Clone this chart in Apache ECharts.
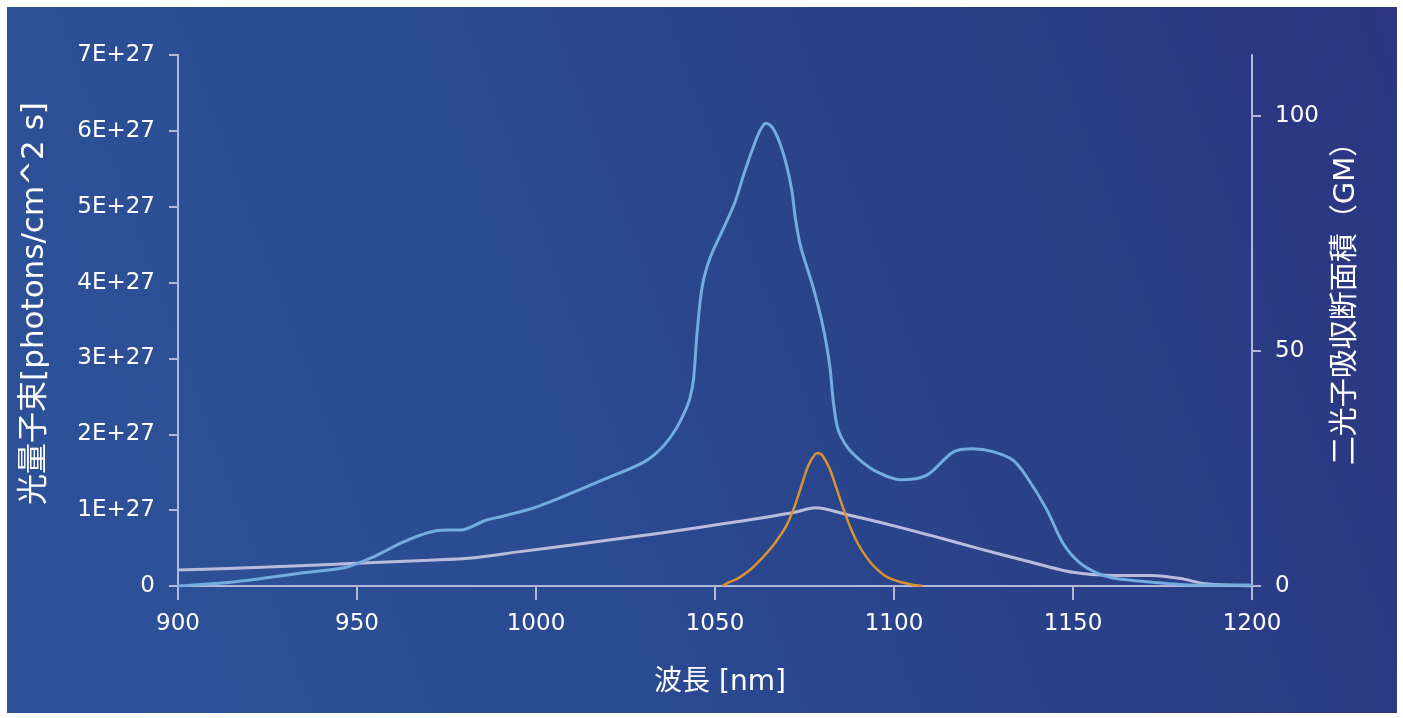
<!DOCTYPE html>
<html>
<head>
<meta charset="utf-8">
<script src="https://cdn.jsdelivr.net/npm/echarts@6/dist/echarts.min.js"></script>
<style>
    html, body { margin: 0; padding: 0; background: #ffffff; }
    #chart {
        position: absolute; left: 7px; top: 7px; width: 1390px; height: 706px;
        background: linear-gradient(70deg, #2e539a 0%, #2a4a91 40%, #2a3e86 75%, #2b3580 100%);
    }
</style>
</head>
<body>
<div id="chart"></div>
<script>
// two-photon absorption cross section (GM), right axis
const gmWave = [900, 916, 935, 947, 954, 963, 970, 975, 979, 986, 991, 1000, 1010, 1020, 1030, 1035, 1039, 1041.5, 1043, 1044,
    1045, 1046.4, 1048.6, 1052, 1055.5, 1058, 1060.5, 1062.5, 1064.2, 1066, 1068, 1070, 1071.5, 1072.5, 1074, 1077.4, 1080.2,
    1082.1, 1083, 1084.3, 1086.9, 1090.5, 1095.2, 1101.7, 1109.2, 1116.5, 1122, 1127.6, 1133.2, 1137.1, 1142.7, 1147.2,
    1151.9, 1156.6, 1161.2, 1170.6, 1184.6, 1200];
const gmValue = [0, 0.9, 2.8, 4.0, 6.0, 9.4, 11.4, 11.9, 11.9, 14.0, 14.9, 16.8, 19.8, 23, 26.3, 29.3, 33.3, 37, 40, 44,
    53.9, 63.6, 69.8, 75.5, 81.5, 87.5, 93, 96.8, 98.5, 97.6, 94.5, 89.5, 84, 78, 72, 63.6, 55.1,
    46.6, 39.6, 33.5, 29.6, 26.8, 24.3, 22.6, 23.6, 28.5, 29.2, 28.6, 26.8, 23.2, 16.2, 9.1,
    4.9, 2.8, 1.7, 0.9, 0.2, 0.2];

// photon flux (E+27), left axis
const fluxWave = [900, 925, 950, 970, 982, 995, 1010, 1035, 1055, 1072, 1078, 1087, 1096, 1110, 1124, 1137, 1150, 1161, 1172, 1180, 1187, 1200];
const fluxValue = [0.21, 0.25, 0.30, 0.34, 0.37, 0.45, 0.54, 0.70, 0.84, 0.97, 1.03, 0.94, 0.84, 0.67, 0.49, 0.33, 0.18, 0.14, 0.14, 0.10, 0.03, 0];

// laser spectrum (E+27 scale), left axis
const laserWave = [1052, 1054, 1056, 1058, 1060, 1062, 1064, 1066, 1068, 1070, 1072, 1074, 1076, 1078, 1079, 1080, 1082, 1084,
    1086, 1088, 1090, 1092, 1094, 1096, 1098, 1100, 1102, 1104, 1106, 1108];
const laserValue = [0, 0.05, 0.09, 0.15, 0.22, 0.31, 0.41, 0.52, 0.65, 0.80, 1.02, 1.30, 1.58, 1.74, 1.75, 1.72, 1.55, 1.28,
    1.00, 0.75, 0.55, 0.40, 0.28, 0.19, 0.12, 0.08, 0.05, 0.03, 0.01, 0];

const xTicks = [900, 950, 1000, 1050, 1100, 1150, 1200];
const rightTicks = [0, 50, 100];

const E27 = 1e27;
const axisColor = "#b4b8d8";
const font = "'DejaVu Sans', 'Noto Sans CJK JP', sans-serif";

function pairs(xs, ys, scale) {
    return xs.map((x, i) => [x, ys[i] * scale]);
}

function lineSeries(name, axis, data, color, width) {
    return {
        name: name,
        type: "line",
        yAxisIndex: axis,
        data: data,
        smooth: 0.3,
        showSymbol: false,
        lineStyle: { color: color, width: width }
    };
}

function buildOption() {
    return {
        animation: false,
        grid: { left: 171, right: 145, top: 48, bottom: 127 },
        xAxis: {
            type: "value",
            min: xTicks[0],
            max: xTicks[xTicks.length - 1],
            interval: 50,
            name: "波長 [nm]",
            nameLocation: "middle",
            nameGap: 83,
            nameTextStyle: { color: "#fff", fontSize: 28, fontFamily: font, padding: [0, 0, 0, 10] },
            splitLine: { show: false },
            axisLine: { lineStyle: { color: axisColor, width: 2 } },
            axisTick: { length: 14, lineStyle: { color: axisColor, width: 2 } },
            axisLabel: { color: "#fff", fontSize: 23, fontFamily: font, margin: 27, formatter: (v) => String(v) }
        },
        yAxis: [
            {
                type: "value",
                min: 0,
                max: 7 * E27,
                interval: E27,
                name: "光量子束[photons/cm^2 s]",
                nameLocation: "middle",
                nameRotate: 90,
                nameGap: 128,
                nameTextStyle: { color: "#fff", fontSize: 31, fontFamily: font, padding: [0, 0, 0, 34] },
                splitLine: { show: false },
                axisLine: { show: true, lineStyle: { color: axisColor, width: 2 } },
                axisTick: { show: true, length: 9, lineStyle: { color: axisColor, width: 2 } },
                axisLabel: {
                    color: "#fff", fontSize: 23, fontFamily: font, margin: 23,
                    formatter: (v) => v === 0 ? "0" : Math.round(v / E27) + "E+27"
                }
            },
            {
                type: "value",
                position: "right",
                min: 0,
                max: 113,
                name: "二光子吸収断面積（GM）",
                nameLocation: "middle",
                nameRotate: 90,
                nameGap: 80,
                nameTextStyle: { color: "#fff", fontSize: 29, fontFamily: font, padding: [0, 0, 0, 48] },
                splitLine: { show: false },
                axisLine: { show: true, lineStyle: { color: axisColor, width: 2 } },
                axisTick: { show: true, length: 9, customValues: rightTicks, lineStyle: { color: axisColor, width: 2 } },
                axisLabel: { color: "#fff", fontSize: 23, fontFamily: font, margin: 23, customValues: rightTicks }
            }
        ],
        series: [
            lineSeries("flux", 0, pairs(fluxWave, fluxValue, E27), "#bbbcdc", 3),
            lineSeries("laser", 0, pairs(laserWave, laserValue, E27), "#d89230", 2.5),
            lineSeries("GM", 1, pairs(gmWave, gmValue, 1), "#72addf", 3)
        ]
    };
}

const chart = echarts.init(document.getElementById("chart"));
chart.setOption(buildOption());
</script>
</body>
</html>
